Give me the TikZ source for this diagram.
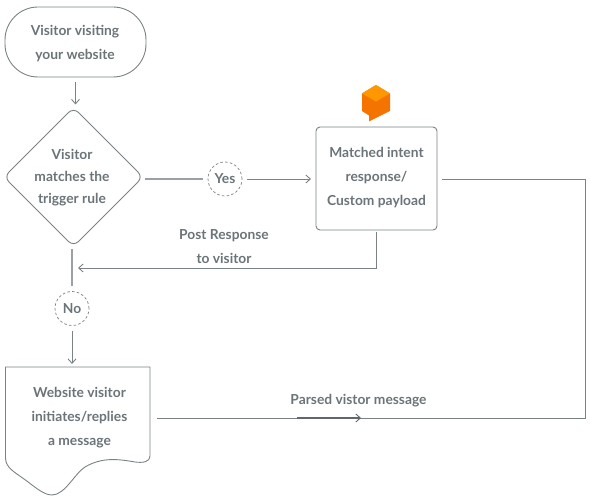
\documentclass[tikz,border=0pt]{standalone}
\usepackage{fontspec}
\setmainfont{Lato}
\usetikzlibrary{shapes.geometric,arrows.meta}
\definecolor{ink}{HTML}{6B7478}
\definecolor{edge}{HTML}{7A8285}
\definecolor{lightedge}{HTML}{9AA0A3}
\definecolor{orangeA}{HTML}{F57300}
\definecolor{orangeB}{HTML}{FF9800}
\tikzset{
  lbl/.style={text=ink,align=center,inner sep=0pt,font=\fontsize{13.8}{24}\selectfont\bfseries},
  shapeline/.style={draw=edge,line width=0.9pt},
  conn/.style={draw=edge,line width=0.9pt},
  plainconn/.style={draw=lightedge,line width=1.1pt},
  arrowed/.style={-{Straight Barb[length=4.5pt,width=8pt,line width=0.9pt]}},
  choice/.style={circle,draw=edge,dashed,dash pattern=on 2.6pt off 2.2pt,line width=0.7pt,minimum size=34pt,inner sep=0pt,text=ink,font=\fontsize{13.8}{16}\selectfont\bfseries},
}
\begin{document}
\begin{tikzpicture}[x=1pt,y=-1pt]
\useasboundingbox (0,0) rectangle (590,500);
% start
\node[shapeline,rounded corners=33pt,minimum width=141pt,minimum height=70pt,inner sep=0pt,outer sep=0pt] (start) at (75.5,42) {};
\node[lbl] (startT) at (75,43.5) {Visitor visiting\\your website};
% diamond
\node[shapeline,diamond,aspect=1,rounded corners=7pt,minimum width=139pt,minimum height=139pt,inner sep=0pt,outer sep=0pt] (dec) at (73.5,177) {};
\node[lbl,font=\fontsize{13.8}{22}\selectfont\bfseries] (decT) at (72,178) {Visitor\\matches the\\trigger rule};
% yes / no
\node[choice] (yes) at (225,179) {Yes};
\node[choice] (no) at (72,308.5) {No};
% intent box
\node[shapeline,rounded corners=4pt,minimum width=121pt,minimum height=103pt,inner sep=0pt,outer sep=0pt] (box) at (376.5,178.5) {};
\node[lbl] (boxT) at (376.5,178) {Matched intent\\response/\\Custom payload};
% icon
\fill[orangeA] (376,85) -- (390,93.5) -- (390,111) -- (369,121.5) -- (369,115.5) -- (362,111) -- (362,93.5) -- cycle;
\fill[orangeB] (376,85) -- (390,93.5) -- (376,101.5) -- (362,93.5) -- cycle;
% document
\draw[shapeline,line join=round] (5.5,367) -- (150,367) -- (150,456)
  .. controls (150,462) and (143,463) .. (135,462)
  .. controls (118,459) and (102,457) .. (85,467)
  .. controls (75,473) and (65,495) .. (52,495)
  .. controls (43,495) and (34,486) .. (24,479)
  .. controls (16,473) and (5.5,468) .. (5.5,458) -- cycle;
\node[inner sep=0pt,outer sep=0pt,minimum width=145pt,minimum height=128pt] (doc) at (78,431) {};
\node[lbl] (docT) at (79.5,417.5) {Website visitor\\initiates/replies\\a message};
% labels
\node[lbl] (postT) at (224,247) {Post Response\\to visitor};
\node[lbl] (parsedT) at (358.5,400.5) {Parsed vistor message};
% connector free ends and bends
\coordinate (r1) at (585,179);
\coordinate (r2) at (585,418);
\coordinate (postEnd) at (78,268);
\coordinate (postCorner) at (376.5,268);
\coordinate (midA) at (297,418);
\coordinate (midB) at (361,418);
% connectors
\draw[conn,arrowed,shorten <=5pt,shorten >=3pt] (start.south) -- (start.south |- dec.north);
\draw[plainconn,shorten <=1.5pt,shorten >=5pt] (yes -| dec.east) -- (yes.west);
\draw[conn,arrowed,shorten <=5pt,shorten >=5pt] (yes.east) -- (yes -| box.west);
\draw[conn,shorten <=5pt,shorten >=6.5pt] (yes -| box.east) -- (r1) -- (r2) -- (r2 -| doc.east);
\draw[conn,arrowed,shorten <=2pt] (box.south) -- (postCorner) -- (postEnd);
\draw[plainconn,shorten <=2.5pt,shorten >=5pt] (no |- dec.south) -- (no.north);
\draw[conn,arrowed,shorten <=5pt,shorten >=3pt] (no.south) -- (no |- doc.north);
\draw[conn,arrowed,line width=1.1pt,draw=ink!90!black] (midA) -- (midB);
\end{tikzpicture}
\end{document}
